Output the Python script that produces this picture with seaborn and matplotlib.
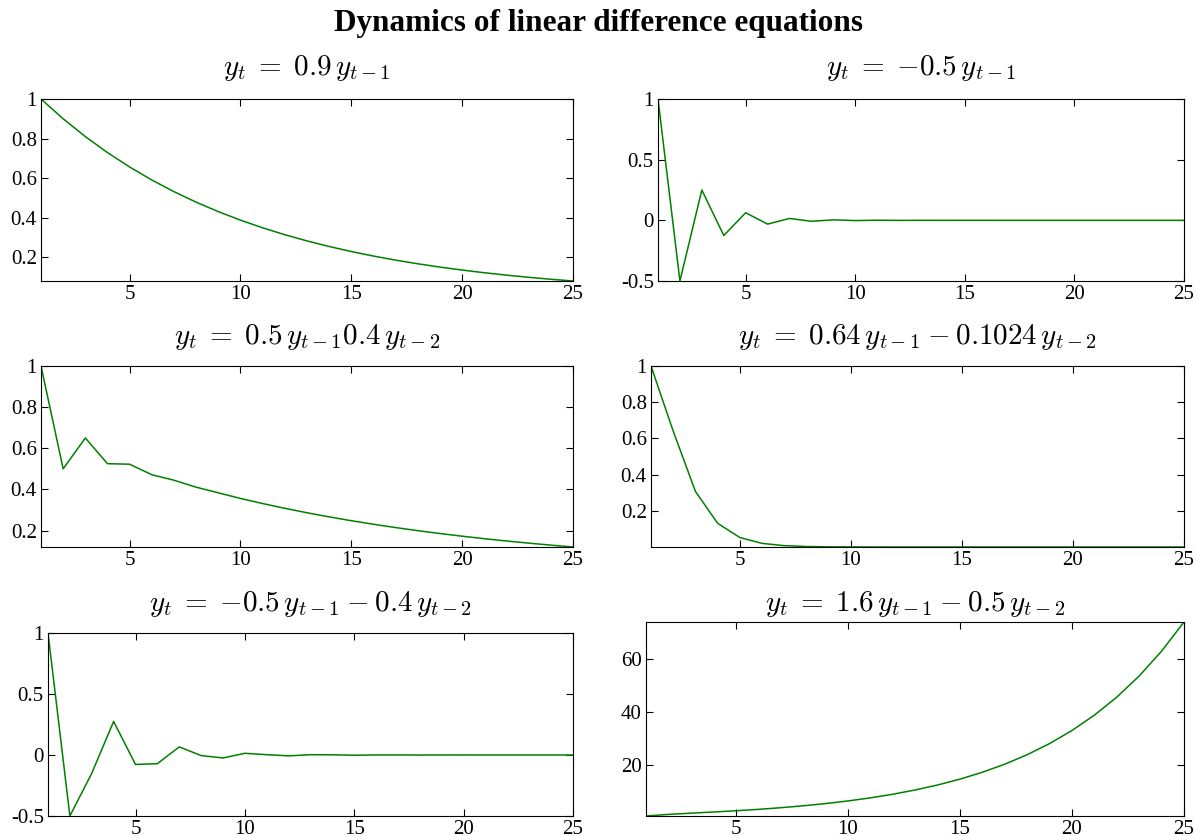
import numpy as np
import pandas as pd
import seaborn as sns
import matplotlib
matplotlib.use("Agg")
import matplotlib.pyplot as plt
from matplotlib.ticker import FuncFormatter

# ---------------- data ----------------
t = list(range(1, 26))

y_a = [1.0, 0.9, 0.81, 0.729, 0.6561, 0.5905, 0.5314, 0.4783, 0.4305, 0.3874,
       0.3487, 0.3138, 0.2824, 0.2542, 0.2288, 0.2059, 0.1853, 0.1668, 0.1501,
       0.1351, 0.1216, 0.1094, 0.0985, 0.0886, 0.0798]
y_b = [1.0, -0.5, 0.25, -0.125, 0.0625, -0.0313, 0.0156, -0.0078, 0.0039, -0.002,
       0.001, -0.0005, 0.0002, -0.0001, 0.0001, 0.0, 0.0, 0.0, 0.0, 0.0,
       0.0, 0.0, 0.0, 0.0, 0.0]
y_c = [1.0, 0.5, 0.65, 0.525, 0.5225, 0.4713, 0.4446, 0.4108, 0.3833, 0.356,
       0.3313, 0.308, 0.2865, 0.2665, 0.2478, 0.2305, 0.2144, 0.1994, 0.1855,
       0.1725, 0.1604, 0.1492, 0.1388, 0.1291, 0.12]
y_d = [1.0, 0.64, 0.3072, 0.1311, 0.0524, 0.0201, 0.0075, 0.0027, 0.001, 0.0004,
       0.0001, 0.0, 0.0, 0.0, 0.0, 0.0, 0.0, 0.0, 0.0, 0.0,
       0.0, 0.0, 0.0, 0.0, 0.0]
y_e = [1.0, -0.5, -0.15, 0.275, -0.0775, -0.0713, 0.0666, -0.0048, -0.0242, 0.014,
       0.0027, -0.007, 0.0024, 0.0016, -0.0018, 0.0002, 0.0006, -0.0004, 0.0,
       0.0002, -0.0001, 0.0, 0.0, 0.0, 0.0]
y_f = [1.0, 1.6, 2.06, 2.496, 2.9636, 3.4938, 4.1082, 4.8263, 5.6679, 6.6555,
       7.8149, 9.1761, 10.7743, 12.6508, 14.8541, 17.4412, 20.4789, 24.0456,
       28.2335, 33.1508, 38.9245, 45.7039, 53.6639, 63.0103, 73.9846]

titles = [r"$y_t\;=\;0.9\, y_{t-1}$",
          r"$y_t\;=\;{-0.5}\, y_{t-1}$",
          r"$y_t\;=\;0.5\, y_{t-1}0.4\, y_{t-2}$",
          r"$y_t\;=\;0.64\, y_{t-1}\:-\:0.1024\, y_{t-2}$",
          r"$y_t\;=\;{-0.5}\, y_{t-1}\:-\:0.4\, y_{t-2}$",
          r"$y_t\;=\;1.6\, y_{t-1}\:-\:0.5\, y_{t-2}$"]
series = [y_a, y_b, y_c, y_d, y_e, y_f]
yticks = [[0.2, 0.4, 0.6, 0.8, 1], [-0.5, 0, 0.5, 1],
          [0.2, 0.4, 0.6, 0.8, 1], [0.2, 0.4, 0.6, 0.8, 1],
          [-0.5, 0, 0.5, 1], [20, 40, 60]]
xticks = [5, 10, 15, 20, 25]
suptitle = "Dynamics of linear difference equations"

# ---------------- style ----------------
sns.set_style("ticks", rc={
    "axes.edgecolor": "black",
    "axes.linewidth": 1.0,
    "xtick.direction": "in",
    "ytick.direction": "in",
    "xtick.top": True,
    "ytick.right": True,
    "xtick.color": "black",
    "ytick.color": "black",
    "text.color": "black",
    "axes.labelcolor": "black",
})
plt.rcParams["font.family"] = ["Liberation Serif", "DejaVu Serif"]
plt.rcParams["mathtext.fontset"] = "cm"
plt.rcParams["axes.unicode_minus"] = False

W, H = 1198, 836
fig = plt.figure(figsize=(W / 100, H / 100), dpi=100)

# axes boxes in pixels: left, right, top, bottom ; title pad in points
boxes = [(41, 573, 99, 281), (658, 1184, 99, 281),
         (41, 573, 366, 547), (651, 1184, 366, 547),
         (48, 573, 633, 816), (646, 1184, 622, 816)]
pads = [17, 17, 16, 16, 16, 8]

fmt = FuncFormatter(lambda v, _: f"{v:g}")
for (l, r, tp, b), ys, ttl, yt, pd_ in zip(boxes, series, titles, yticks, pads):
    ax = fig.add_axes([l / W, (H - b) / H, (r - l) / W, (b - tp) / H])
    df = pd.DataFrame({"t": t, "y": ys})
    sns.lineplot(data=df, x="t", y="y", ax=ax, color="#008000", linewidth=1.1)
    ax.set_xlim(1, 25)
    ax.set_ylim(min(ys), max(ys))
    ax.set_xticks(xticks)
    ax.set_yticks(yt)
    ax.xaxis.set_major_formatter(fmt)
    ax.yaxis.set_major_formatter(fmt)
    ax.tick_params(which="both", direction="in", top=True, right=True,
                   length=5, width=0.8, labelsize=15, pad=3,
                   colors="black")
    ax.set_xlabel("")
    ax.set_ylabel("")
    ax.set_title(ttl, fontsize=21, pad=pd_, color="black")

fig.text(0.5, (H - 24) / H, suptitle, ha="center", va="center",
         fontsize=22.5, fontweight="bold", color="black")

fig.savefig("out.png", dpi=100)
